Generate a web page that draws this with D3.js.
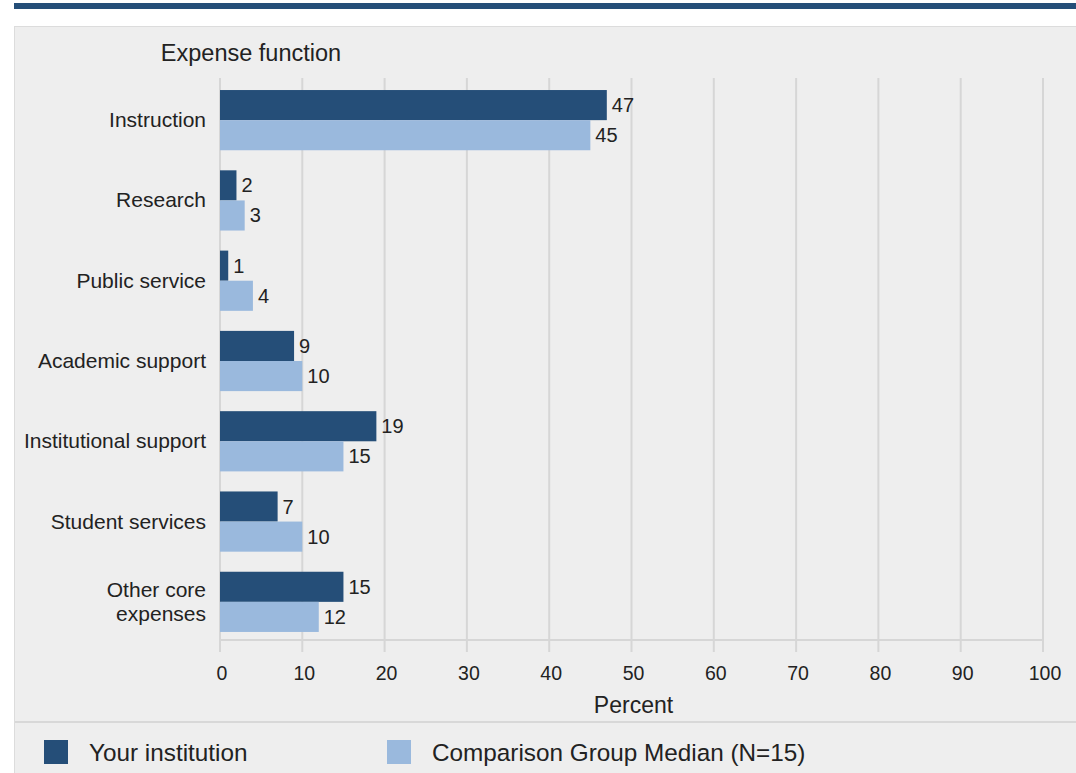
<!DOCTYPE html>
<html><head><meta charset="utf-8">
<script src="https://cdn.jsdelivr.net/npm/d3@7"></script>
<style>body{margin:0;background:#fff;}svg{display:block;font-family:Arial,"Liberation Sans",sans-serif;}</style>
</head><body>
<svg id="chart" width="1076" height="773"></svg>
<script>
const categories = ["Instruction","Research","Public service","Academic support","Institutional support","Student services","Other core expenses"];
const categoryLines = [["Instruction"],["Research"],["Public service"],["Academic support"],["Institutional support"],["Student services"],["Other core","expenses"]];
const yourInstitution = [47,2,1,9,19,7,15];
const comparisonMedian = [45,3,4,10,15,10,12];
const seriesNames = ["Your institution","Comparison Group Median (N=15)"];
const xTicks = [0,10,20,30,40,50,60,70,80,90,100];
const colors = ["#254e78","#9ab9dd"];

const svg = d3.select("#chart");
svg.append("rect").attr("x",14).attr("y",3).attr("width",1062).attr("height",6).attr("fill","#254e78");
svg.append("rect").attr("x",14.5).attr("y",26.5).attr("width",1070).attr("height",760).attr("fill","#eeeeee").attr("stroke","#dcdcdc");
svg.append("line").attr("x1",15).attr("x2",1076).attr("y1",722).attr("y2",722).attr("stroke","#d8d8d8").attr("stroke-width",2);

const x = d3.scaleLinear().domain([0,100]).range([220,1043]);
const y = d3.scaleBand().domain(categories).range([80,642]).paddingInner(0.25).paddingOuter(0.125);
const sub = d3.scaleBand().domain([0,1]).range([0,y.bandwidth()]);

svg.append("g").selectAll("line").data(xTicks).join("line")
  .attr("x1",d=>x(d)).attr("x2",d=>x(d)).attr("y1",78).attr("y2",652)
  .attr("stroke","#d6d6d6").attr("stroke-width",2);
svg.append("line").attr("x1",x(0)).attr("x2",x(100)).attr("y1",640).attr("y2",640).attr("stroke","#d6d6d6").attr("stroke-width",2);

svg.append("g").selectAll("text").data(xTicks).join("text")
  .attr("x",d=>x(d)+2).attr("y",680).attr("text-anchor","middle")
  .attr("font-size",19.5).attr("fill","#222").text(d=>d);
svg.append("text").attr("x",x(50)+2).attr("y",713).attr("text-anchor","middle").attr("font-size",23).attr("fill","#222").text("Percent");
svg.append("text").attr("x",251).attr("y",61).attr("text-anchor","middle").attr("font-size",23.5).attr("fill","#222").text("Expense function");

const series = [yourInstitution, comparisonMedian];
series.forEach((vals,si)=>{
  const g = svg.append("g");
  g.selectAll("rect").data(categories).join("rect")
    .attr("x",x(0)).attr("y",c=>y(c)+sub(si)).attr("height",sub.bandwidth())
    .attr("width",(c,i)=>x(vals[i])-x(0)).attr("fill",colors[si]);
  g.selectAll("text").data(categories).join("text")
    .attr("x",(c,i)=>x(vals[i])+5).attr("y",(c,i)=>y(c)+sub(si)+sub.bandwidth()/2+7)
    .attr("font-size",20).attr("fill","#222").text((c,i)=>vals[i]);
});

categories.forEach((c,i)=>{
  const lines = categoryLines[i];
  const cy = y(c)+y.bandwidth()/2;
  const t = svg.append("text").attr("text-anchor","end").attr("font-size",21).attr("fill","#222");
  lines.forEach((l,j)=>{
    t.append("tspan").attr("x",206).attr("y",cy+7+(j-(lines.length-1)/2)*24).text(l);
  });
});

const legX = [44,387];
seriesNames.forEach((n,i)=>{
  svg.append("rect").attr("x",legX[i]).attr("y",740).attr("width",24).attr("height",24).attr("fill",colors[i]);
  svg.append("text").attr("x",legX[i]+45).attr("y",761).attr("font-size",24.3).attr("fill","#222").text(n);
});
</script>
</body></html>
